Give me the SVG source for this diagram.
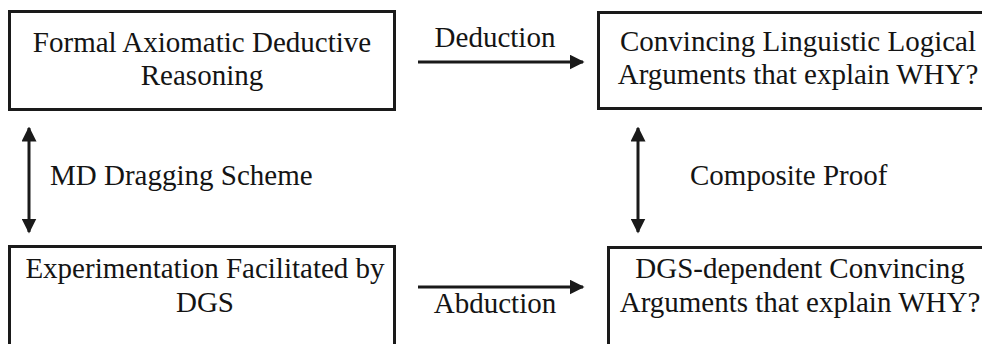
<svg xmlns="http://www.w3.org/2000/svg" width="982" height="344" viewBox="0 0 982 344">
<style>
.box{fill:#fff;stroke:#1a1a1a;stroke-width:3}
.ln{stroke:#1a1a1a;stroke-width:3;fill:none}
</style>
<defs>
<marker id="ah" viewBox="0 0 10 10" refX="9" refY="5" markerWidth="5" markerHeight="5" orient="auto-start-reverse" markerUnits="strokeWidth">
<path d="M0,0 L10,5 L0,10 z" fill="#1a1a1a"/>
</marker>
</defs>
<rect width="982" height="344" fill="#fff"/>
<g id="n1">
<rect class="box" x="9.5" y="11.5" width="385" height="98"/>
<text x="202" y="52" font-family="Liberation Serif" font-size="29" fill="#141414" text-anchor="middle">Formal Axiomatic Deductive</text>
<text x="202" y="85" font-family="Liberation Serif" font-size="29" fill="#141414" text-anchor="middle">Reasoning</text>
</g>
<g id="n2">
<rect class="box" x="598.5" y="12.5" width="400" height="96"/>
<text x="798" y="51" font-family="Liberation Serif" font-size="29" fill="#141414" text-anchor="middle">Convincing Linguistic Logical</text>
<text x="798" y="84" font-family="Liberation Serif" font-size="29" fill="#141414" text-anchor="middle">Arguments that explain WHY?</text>
</g>
<g id="n3">
<rect class="box" x="9.5" y="246.5" width="385" height="110"/>
<text x="205" y="278" font-family="Liberation Serif" font-size="29" fill="#141414" text-anchor="middle">Experimentation Facilitated by</text>
<text x="205" y="312" font-family="Liberation Serif" font-size="29" fill="#141414" text-anchor="middle">DGS</text>
</g>
<g id="n4">
<rect class="box" x="608.5" y="247.5" width="400" height="110"/>
<text x="800" y="278" font-family="Liberation Serif" font-size="29" fill="#141414" text-anchor="middle">DGS-dependent Convincing</text>
<text x="800" y="312" font-family="Liberation Serif" font-size="29" fill="#141414" text-anchor="middle">Arguments that explain WHY?</text>
</g>
<g id="connectors">
<line class="ln" x1="418" y1="62" x2="583" y2="62" marker-end="url(#ah)"/>
<text x="495" y="47" font-family="Liberation Serif" font-size="29" fill="#141414" text-anchor="middle">Deduction</text>
<line class="ln" x1="418" y1="287" x2="583" y2="287" marker-end="url(#ah)"/>
<text x="495" y="313" font-family="Liberation Serif" font-size="29" fill="#141414" text-anchor="middle">Abduction</text>
<line class="ln" x1="29" y1="128" x2="29" y2="232" marker-start="url(#ah)" marker-end="url(#ah)"/>
<text x="50" y="185" font-family="Liberation Serif" font-size="29" fill="#141414">MD Dragging Scheme</text>
<line class="ln" x1="638" y1="128" x2="638" y2="232" marker-start="url(#ah)" marker-end="url(#ah)"/>
<text x="690" y="185" font-family="Liberation Serif" font-size="29" fill="#141414">Composite Proof</text>
</g>
</svg>
